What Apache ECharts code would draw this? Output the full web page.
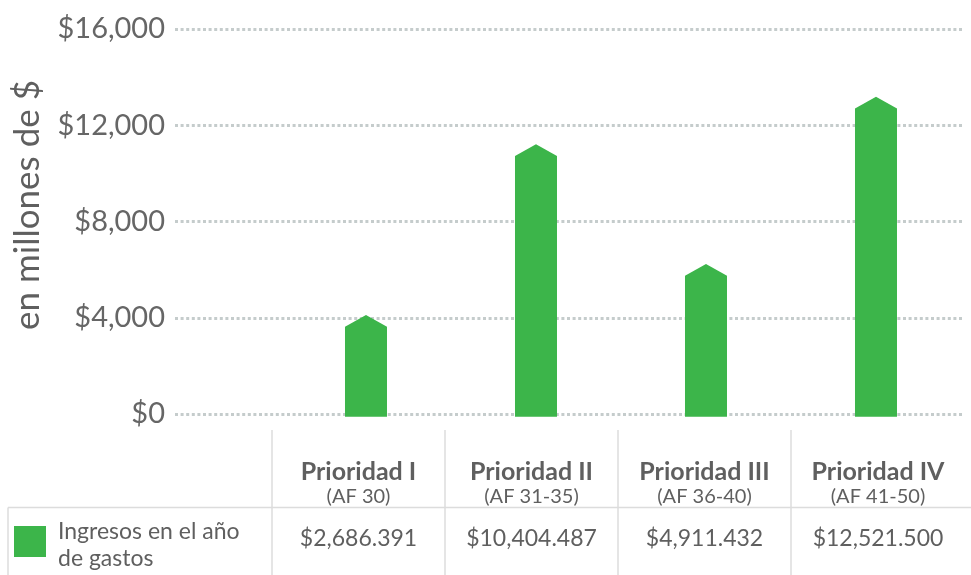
<!DOCTYPE html>
<html>
<head>
<meta charset="utf-8">
<script src="https://cdn.jsdelivr.net/npm/echarts@6/dist/echarts.min.js"></script>
<style>
  html, body { margin: 0; padding: 0; background: #fff; }
  #main { width: 971px; height: 575px; }
</style>
</head>
<body>
<div id="main"></div>
<script>
// categorias y datos
const categories = ["Prioridad I", "Prioridad II", "Prioridad III", "Prioridad IV"];
const periods = ["(AF 30)", "(AF 31-35)", "(AF 36-40)", "(AF 41-50)"];
const barValues = [3630, 10720, 5750, 12700];
const tableValues = ["$2,686.391", "$10,404.487", "$4,911.432", "$12,521.500"];
const seriesName = ["Ingresos en el año", "de gastos"];
const yTicks = [0, 4000, 8000, 12000, 16000];

const green = "#3cb54a";
const textColor = "#5f5f5f";
const lineColor = "#dcdcdc";
const font = "Lato, 'Open Sans', sans-serif";

// columnas de la tabla
const colEdges = [272, 445, 618, 791, 965];

let chart = echarts.init(document.getElementById("main"));

let graphics = [];
// lineas de la tabla
colEdges.slice(0, 4).forEach(x => {
  graphics.push({ type: "line", shape: { x1: x, y1: 430, x2: x, y2: 575 }, style: { stroke: lineColor, lineWidth: 1.5 } });
});
graphics.push({ type: "line", shape: { x1: 8, y1: 507.5, x2: 971, y2: 507.5 }, style: { stroke: lineColor, lineWidth: 1.5 } });
graphics.push({ type: "line", shape: { x1: 8, y1: 507.5, x2: 8, y2: 575 }, style: { stroke: lineColor, lineWidth: 1.5 } });
// encabezados y valores
categories.forEach((c, i) => {
  const cx = (colEdges[i] + colEdges[i + 1]) / 2;
  graphics.push({ type: "text", x: cx, y: 472, style: { text: c, font: "bold 25px " + font, fill: textColor, align: "center", verticalAlign: "middle" } });
  graphics.push({ type: "text", x: cx, y: 497, style: { text: periods[i], font: "20px " + font, fill: textColor, align: "center", verticalAlign: "middle" } });
  graphics.push({ type: "text", x: cx, y: 539, style: { text: tableValues[i], font: "23px " + font, fill: textColor, align: "center", verticalAlign: "middle" } });
});
// leyenda
graphics.push({ type: "rect", shape: { x: 14, y: 526, width: 32, height: 31 }, style: { fill: green } });
graphics.push({ type: "text", x: 58, y: 532, style: { text: seriesName[0], font: "23px " + font, fill: textColor, verticalAlign: "middle" } });
graphics.push({ type: "text", x: 58, y: 559, style: { text: seriesName[1], font: "23px " + font, fill: textColor, verticalAlign: "middle" } });
// titulo del eje y
graphics.push({ type: "text", x: 28, y: 205, rotation: Math.PI / 2, style: { text: "en millones de $", font: "35px " + font, fill: textColor, align: "center", verticalAlign: "middle" } });

let option = {
  animation: false,
  grid: { left: 175, right: 8, top: 29, bottom: 161 },
  xAxis: {
    type: "value",
    min: -1.1235,
    max: 3.5118,
    show: false
  },
  yAxis: {
    type: "value",
    min: yTicks[0],
    max: yTicks[yTicks.length - 1],
    interval: 4000,
    axisLine: { show: false },
    axisTick: { show: false },
    axisLabel: {
      margin: 10,
      color: "#666",
      fontSize: 29,
      fontFamily: font,
      formatter: v => "$" + v.toLocaleString("en-US")
    },
    splitLine: { lineStyle: { color: "#c5cccc", width: 3, type: [3, 2.6] } }
  },
  graphic: graphics,
  series: [
    {
      type: "custom",
      data: barValues.map((v, i) => [i, v]),
      renderItem: (params, api) => {
        const base = api.coord([api.value(0), 0]);
        const top = api.coord([api.value(0), api.value(1)]);
        const x = base[0], y0 = base[1] + 2.7, y1 = top[1], hw = 21;
        return {
          type: "polygon",
          shape: { points: [[x - hw, y0], [x - hw, y1], [x, y1 - 11.7], [x + hw, y1], [x + hw, y0]] },
          style: { fill: green }
        };
      }
    }
  ]
};
chart.setOption(option);
</script>
</body>
</html>
